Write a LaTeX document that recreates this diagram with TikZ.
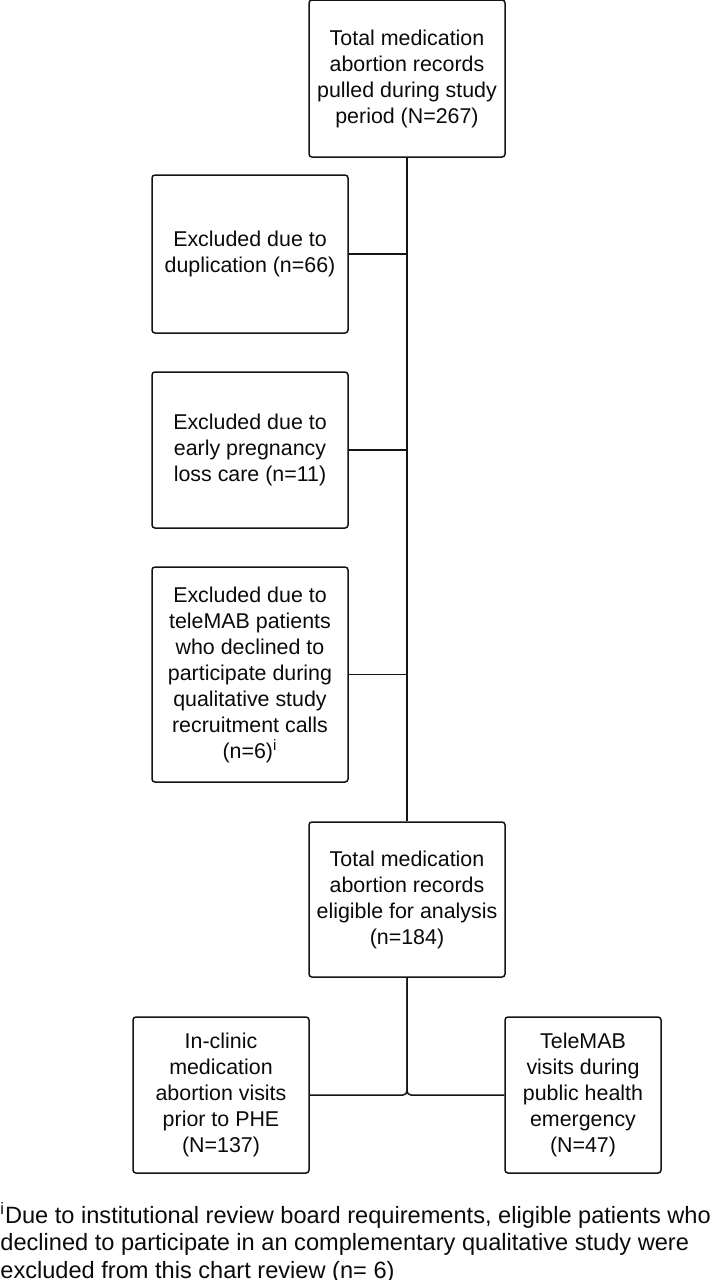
\documentclass[tikz,border=0pt]{standalone}
\usepackage{fontspec}
\setmainfont{Liberation Sans}
\definecolor{flowStroke}{RGB}{20,20,20}
\definecolor{flowText}{RGB}{10,10,10}

\begin{document}
\begin{tikzpicture}[
  x=0.5pt,
  y=-0.5pt,
  flowBox/.style={draw=flowStroke, line width=0.75pt, rounded corners=1.5pt,
    align=center, inner sep=0pt, text=flowText,
    font=\fontsize{10.7}{13}\selectfont},
  link/.style={draw=flowStroke, line width=0.75pt},
  footNote/.style={anchor=north west, align=left, inner sep=0pt, text=flowText,
    font=\fontsize{11.8}{13.75}\selectfont}
]
  \useasboundingbox (0,0) rectangle (714,1280);

  % main column
  \node[flowBox, minimum width=98pt, minimum height=78.5pt] (total) at (407,78.5)
    {Total medication\\abortion records\\pulled during study\\period (N=267)};
  \node[flowBox, minimum width=98pt, minimum height=77.5pt] (eligible) at (407,899.5)
    {Total medication\\abortion records\\eligible for analysis\\(n=184)};

  % exclusions
  \node[flowBox, minimum width=98pt, minimum height=79pt] (dupl) at (250,254)
    {Excluded due to\\duplication (n=66)};
  \node[flowBox, minimum width=98pt, minimum height=78pt] (loss) at (250,450)
    {Excluded due to\\early pregnancy\\loss care (n=11)};
  \node[flowBox, minimum width=98pt, minimum height=107.5pt] (declined) at (250,674.5)
    {Excluded due to\\teleMAB patients\\who declined to\\participate during\\qualitative study\\recruitment calls\\(n=6)\textsuperscript{i}};

  % groups
  \node[flowBox, minimum width=88pt, minimum height=78pt] (clinic) at (221,1095)
    {In-clinic\\medication\\abortion visits\\prior to PHE\\(N=137)};
  \node[flowBox, minimum width=78pt, minimum height=78pt] (tele) at (583,1095)
    {TeleMAB\\visits during\\public health\\emergency\\(N=47)};

  \draw[link] (total.south) -- (eligible.north);
  \draw[link] (dupl.east) -- (dupl.east -| total.south);
  \draw[link] (loss.east) -- (loss.east -| total.south);
  \draw[link] (declined.east) -- (declined.east -| total.south);
  \draw[link, rounded corners=2pt] (eligible.south) |- (clinic.east);
  \draw[link, rounded corners=2pt] (eligible.south) |- (tele.west);

  \node[footNote] (note) at (0,1202)
    {\textsuperscript{i}Due to institutional review board requirements, eligible patients who\\
     declined to participate in an complementary qualitative study were\\
     excluded from this chart review (n= 6)};
\end{tikzpicture}
\end{document}
